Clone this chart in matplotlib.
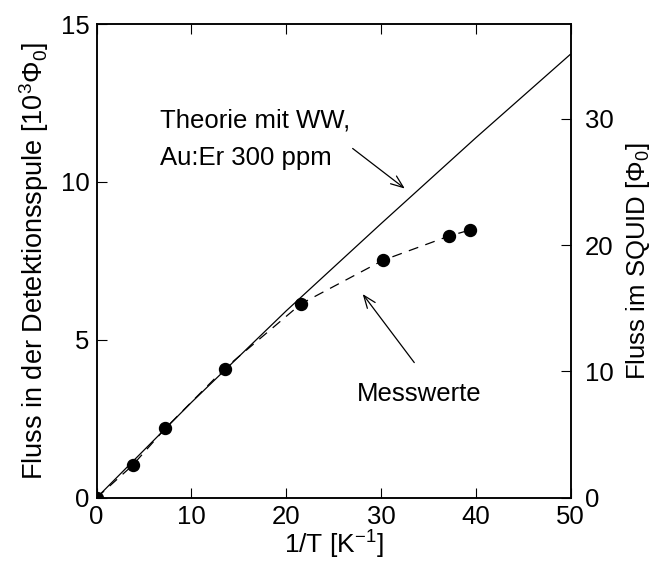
import matplotlib
matplotlib.use("Agg")
import matplotlib.pyplot as plt

plt.rcParams['font.family'] = ['Liberation Sans', 'DejaVu Sans']
plt.rcParams['mathtext.fontset'] = 'custom'
plt.rcParams['mathtext.rm'] = 'Liberation Sans'
plt.rcParams['mathtext.it'] = 'Liberation Sans'

# Measured data (1/T in K^-1, flux in 10^3 Phi_0)
meas_x = [0.0, 3.8, 7.25, 13.5, 21.55, 30.2, 37.2, 39.4]
meas_y = [0.0, 1.03, 2.2, 4.09, 6.14, 7.52, 8.29, 8.48]

# Theory with interaction, Au:Er 300 ppm
theo_x = [0, 10, 20, 30, 40, 50]
theo_y = [0.0, 3.02, 5.92, 8.68, 11.40, 14.05]

x_ticks = [0, 10, 20, 30, 40, 50]
y_ticks = [0, 5, 10, 15]
y2_ticks = [0, 10, 20, 30]
squid_factor = 2.5  # right axis = left axis * 2.5

fs = 18.5
fig = plt.figure(figsize=(6.53, 5.65), dpi=100)
ax = fig.add_axes([0.148, 0.119, 0.726, 0.8385])

ax.plot(theo_x, theo_y, color='black', lw=0.9, solid_capstyle='butt')
ax.plot(meas_x, meas_y, color='black', lw=0.9, ls=(0, (8, 6)))
ax.plot(meas_x, meas_y, 'o', color='black', ms=8.6, mec='black')

ax.set_xlim(0, 50)
ax.set_ylim(0, 15)
ax.set_xticks(x_ticks)
ax.set_yticks(y_ticks)
ax.tick_params(direction='in', length=7, width=0.8, labelsize=fs, top=True,
               right=False, pad=5)
for s in ax.spines.values():
    s.set_linewidth(1.1)

ax.set_xlabel(r'1/T [K$^{-1}$]', fontsize=19, labelpad=0)
ax.set_ylabel(r'Fluss in der Detektionsspule [10$^3$Φ$_0$]', fontsize=19.5, labelpad=7)

ax2 = ax.twinx()
ax2.set_ylim(0, 15 * squid_factor)
ax2.set_yticks(y2_ticks)
ax2.tick_params(direction='in', length=7, width=0.8, labelsize=fs, pad=10)
ax2.set_ylabel(r'Fluss im SQUID [Φ$_0$]', fontsize=fs, labelpad=8)
for s in ax2.spines.values():
    s.set_linewidth(1.1)

ax.text(6.68, 11.73, 'Theorie mit WW,', fontsize=fs, va='baseline', ha='left')
ax.text(6.68, 10.53, 'Au:Er 300 ppm', fontsize=fs, va='baseline', ha='left')
ax.annotate('', xy=(32.5, 9.79), xytext=(27.0, 11.06),
            arrowprops=dict(arrowstyle='->,head_length=0.9,head_width=0.35',
                            color='black', lw=0.9, shrinkA=0, shrinkB=0))

ax.text(27.4, 3.06, 'Messwerte', fontsize=fs, va='baseline', ha='left')
ax.annotate('', xy=(28.06, 6.45), xytext=(33.5, 4.28),
            arrowprops=dict(arrowstyle='->,head_length=0.9,head_width=0.35',
                            color='black', lw=0.9, shrinkA=0, shrinkB=0))

fig.savefig('out.png', dpi=100)
